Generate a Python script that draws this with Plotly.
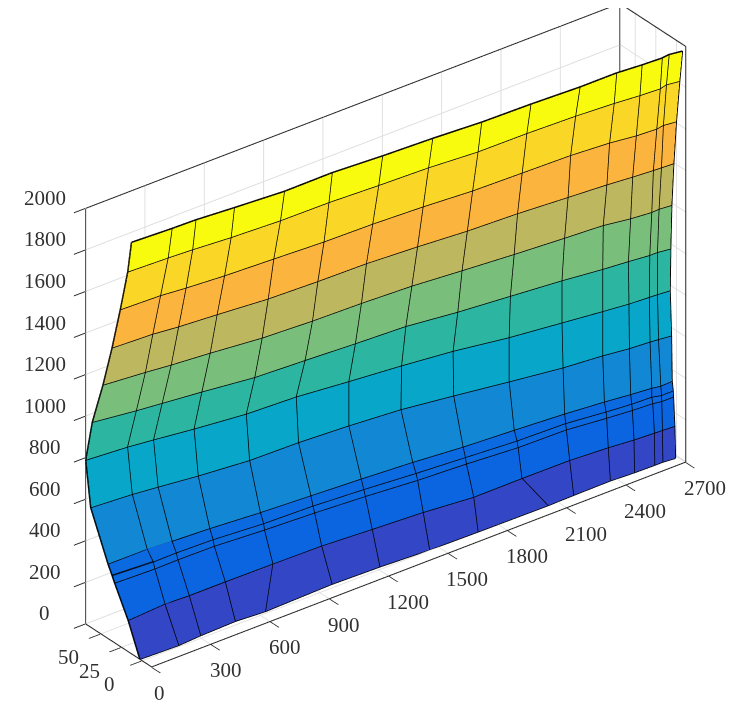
import plotly.graph_objects as go

x_cols = [0, 196, 314, 496, 735, 978, 1220, 1465, 1700, 1945, 2185, 2370, 2490, 2588, 2627, 2687]
x_row0 = [0, 190, 308, 488, 632, 977, 1214, 1455, 1697, 2048, 2180, 2367, 2484, 2585, 2626, 2686]
z_rows = [0, 151, 288, 316, 359, 576, 789, 992, 1205, 1412, 1622, 1827, 1980]
y_r0 = [2.4, 1.2, 2.8, 4, 2, 4, 2.8, .4, -.4, -1, -.4, 0, -1.2, -1.6, -1.6, -2.8]
y_r1 = [16.6, 19.4, 18.2, 18.2, 17.8, 17, 13.7, 10.6, 5.7, 6, 5.7, 3.3, .8, -.4, -.8, -1.6]
y_r2 = [33, 31.6, 32, 31.6, 28, 25.5, 22, 17.4, 14.6, 10.6, 9.7, 5.2, 2.8, 1.6, 0, 0]
y_r3 = [36, 33.6, 34, 33, 29, 27.5, 24, 19.4, 15.8, 12, 10.6, 6, 3.6, 2.8, .4, .4]
y_r4 = [41, 41, 39, 37, 33, 30, 27, 23.4, 18.6, 15.4, 11.8, 8, 4.9, 2.8, 1.2, 1.6]
y_r5 = [62, 59, 56, 51, 46, 45, 42, 37.6, 30, 21.5, 13.7, 10, 6.4, 4.9, 4, 2.4]
y_r6 = [68, 64.7, 61.5, 56, 50, 47.7, 42, 36.8, 30.7, 21.5, 15, 10, 7, 5.7, 5.2, 4]
y_r7 = [60, 54, 51, 46.5, 39.7, 37, 34, 31.6, 25, 20, 15, 10, 7.6, 5.2, 5.2, 3.3]
y_r8 = [47, 43, 40, 36.4, 30.7, 28, 26.7, 24.3, 19.8, 15.4, 11.8, 9.3, 4.9, 2.8, 3.3, 2]
y_r9 = [36, 34, 31, 28, 23.4, 21.5, 20.6, 17.4, 13.4, 11.3, 7.6, 4.9, 2.4, .8, .4, -.4]
y_r10 = [26, 24.6, 22, 19, 16.6, 14, 13, 10.6, 7, 5.7, 4.5, 1.6, -2, -3.3, -2, -3.6]
y_r11 = [17, 15.4, 14, 11, 8.5, 8, 5.7, 4, .4, 0, -1.6, -4, -6.4, -7.6, -5.7, -7.6]
y_r12 = [12.5, 10.6, 10, 7, 3.6, 4, 1, -1, -4, -5, -7, -7, -9, -10, -9, -11]
y_rows = [y_r0, y_r1, y_r2, y_r3, y_r4, y_r5, y_r6, y_r7, y_r8, y_r9, y_r10, y_r11, y_r12]
band_colors = ["#3246C6", "#0B64E0", "#0C6AE0", "#0C6AE0", "#1288D4", "#08A6C8",
               "#2CB5A0", "#7ABE7C", "#BDB860", "#FBB43E", "#FAD726", "#F9FB0E"]
x_ticks = [0, 300, 600, 900, 1200, 1500, 1800, 2100, 2400, 2700]
y_ticks = [0, 25, 50]
z_ticks = [0, 200, 400, 600, 800, 1000, 1200, 1400, 1600, 1800, 2000]
x_lim = [0, 2700]
y_lim = [-12, 68]
z_lim = [0, 2000]

nr, nc = len(z_rows), len(x_cols)
X, Y, Z = [], [], []
for r in range(nr):
    xs = x_row0 if r == 0 else x_cols
    for c in range(nc):
        X.append(xs[c]); Y.append(y_rows[r][c]); Z.append(z_rows[r])
I, J, K, FC = [], [], [], []
for r in range(nr - 1):
    for c in range(nc - 1):
        a = r * nc + c; b = a + 1; d = a + nc; e = d + 1
        I += [a, a]; J += [b, e]; K += [e, d]; FC += [band_colors[r]] * 2

lx, ly, lz = [], [], []
for r in range(nr):
    for c in range(nc):
        i = r * nc + c
        lx.append(X[i]); ly.append(Y[i]); lz.append(Z[i])
    lx.append(None); ly.append(None); lz.append(None)
for c in range(nc):
    for r in range(nr):
        i = r * nc + c
        lx.append(X[i]); ly.append(Y[i]); lz.append(Z[i])
    lx.append(None); ly.append(None); lz.append(None)

x0, x1 = x_lim; y0, y1 = y_lim; z0, z1 = z_lim
bx = [x0, x0, None, x0, x1, None, x1, x1, None, x1, x1, None, x1, x1, None, x0, x1, None, x0, x0]
by = [y1, y1, None, y1, y1, None, y1, y0, None, y0, y0, None, y1, y1, None, y0, y0, None, y0, y1]
bz = [z0, z1, None, z1, z1, None, z1, z1, None, z1, z0, None, z1, z0, None, z0, z0, None, z0, z0]

fig = go.Figure()
fig.add_trace(go.Mesh3d(x=X, y=Y, z=Z, i=I, j=J, k=K, facecolor=FC, flatshading=True,
                        lighting=dict(ambient=1, diffuse=0, specular=0, roughness=1, fresnel=0),
                        hoverinfo="skip", showscale=False))
fig.add_trace(go.Scatter3d(x=lx, y=ly, z=lz, mode="lines", line=dict(color="#000000", width=3),
                           hoverinfo="skip", showlegend=False))
fig.add_trace(go.Scatter3d(x=bx, y=by, z=bz, mode="lines", line=dict(color="#262626", width=2),
                           hoverinfo="skip", showlegend=False))


def axis(rng, ticks, pad):
    return dict(range=[rng[0] - pad, rng[1] + pad], tickmode="array", tickvals=ticks, showticklabels=False,
                title=dict(text=""), showbackground=False, showgrid=True, gridcolor="#DDDDDD", gridwidth=2,
                zeroline=False, showline=False, ticks="outside", ticklen=14, tickcolor="#262626",
                tickwidth=2, showspikes=False, autorange=False)


label_font = dict(family="Liberation Serif", size=21, color="#303030")
x_shift = {1: 8, 3: 14.5, 4: 19}
notes = []
for t in x_ticks:
    notes.append(dict(x=t, y=y0, z=z0, text=str(t), showarrow=False, xanchor="center", yanchor="middle",
                      xshift=x_shift[len(str(t))], yshift=-26, font=label_font))
for t in y_ticks:
    notes.append(dict(x=x0, y=t, z=z0, text=str(t), showarrow=False, xanchor="center", yanchor="middle",
                      xshift=-32, yshift=-23.5, font=label_font))
for t in z_ticks:
    notes.append(dict(x=x0, y=y1, z=t, text=str(t), showarrow=False, xanchor="center", yanchor="middle",
                      xshift=-41, yshift=10.5, font=label_font))

rr = 2.6
s = 1.345
cx, cy, cz = -0.0396, -0.023, -0.0734
fig.update_layout(
    width=743, height=715, paper_bgcolor="white", margin=dict(l=0, r=0, t=0, b=0), showlegend=False,
    scene=dict(
        domain=dict(x=[0, 1], y=[0, 1]),
        xaxis=axis(x_lim, x_ticks, 3), yaxis=axis(y_lim, y_ticks, 0.1), zaxis=axis(z_lim, z_ticks, 2),
        aspectmode="manual", aspectratio=dict(x=1.403 * s, y=0.226 * s, z=s),
        annotations=notes,
        camera=dict(projection=dict(type="orthographic"),
                    eye=dict(x=-0.527 * rr + cx, y=-0.687 * rr + cy, z=0.5 * rr + cz),
                    center=dict(x=cx, y=cy, z=cz), up=dict(x=0, y=0, z=1)),
    ),
)
fig.write_html("out.html")
